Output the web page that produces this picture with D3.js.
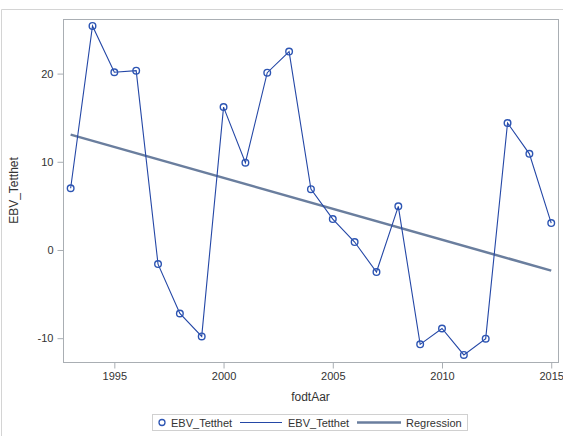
<!DOCTYPE html>
<html>
<head>
<meta charset="utf-8">
<script src="https://cdn.jsdelivr.net/npm/d3@7"></script>
<style>
  html, body { margin: 0; padding: 0; background: #fff; }
  svg { display: block; font-family: Arial, "Liberation Sans", sans-serif; }
</style>
</head>
<body>
<svg id="chart" width="563" height="436"></svg>
<script>
// Birth year (fodtAar) and breeding value for density (EBV_Tetthet)
const years = [1993, 1994, 1995, 1996, 1997, 1998, 1999, 2000, 2001, 2002, 2003, 2004,
               2005, 2006, 2007, 2008, 2009, 2010, 2011, 2012, 2013, 2014, 2015];
const ebvValues = [7.0, 25.4, 20.15, 20.33, -1.6, -7.2, -9.8, 16.2, 9.9, 20.1, 22.5, 6.9,
                   3.5, 0.9, -2.5, 4.95, -10.7, -8.9, -11.9, -10.05, 14.4, 10.9, 3.05];
const xTicks = [1995, 2000, 2005, 2010, 2015];
const yTicks = [-10, 0, 10, 20];
const legendLabels = ["EBV_Tetthet", "EBV_Tetthet", "Regression"];

const svg = d3.select("#chart");
const plot = { left: 63, top: 19, right: 558, bottom: 362 };

const x = d3.scaleLinear().domain([1992.65, 2015.31]).range([plot.left, plot.right]);
const y = d3.scaleLinear().domain([-12.7, 26.19]).range([plot.bottom, plot.top]);

const lineColor = "#2447a6";
const markerColor = "#2d55b3";
const regColor = "#6a7e9e";
const axisColor = "#a9aeb3";
const textColor = "#333";

// outer graph border
svg.append("path")
  .attr("d", "M1.5,440 L1.5,9.5 L570,9.5")
  .attr("fill", "none").attr("stroke", "#d4d4d4").attr("stroke-width", 1);

// plot frame
svg.append("rect")
  .attr("x", plot.left + 0.5).attr("y", plot.top + 0.5)
  .attr("width", plot.right - plot.left).attr("height", plot.bottom - plot.top)
  .attr("fill", "none").attr("stroke", axisColor);

// axes (plain hyphen for negatives)
const xAxis = svg.append("g")
  .attr("transform", `translate(0,${plot.bottom + 0.5})`)
  .call(d3.axisBottom(x).tickValues(xTicks).tickFormat(d => String(d)).tickSize(6).tickPadding(4));
const yAxis = svg.append("g")
  .attr("transform", `translate(${plot.left + 0.5},0)`)
  .call(d3.axisLeft(y).tickValues(yTicks).tickFormat(d => String(d)).tickSize(6).tickPadding(4));
[xAxis, yAxis].forEach(g => {
  g.select(".domain").remove();
  g.selectAll("line").attr("stroke", axisColor);
  g.selectAll("text").attr("fill", textColor).attr("font-size", 11)
    .attr("font-family", "Arial, 'Liberation Sans', sans-serif");
});

// axis titles
svg.append("text")
  .attr("x", (plot.left + plot.right) / 2).attr("y", 401)
  .attr("text-anchor", "middle").attr("font-size", 12).attr("fill", textColor)
  .text("fodtAar");
svg.append("text")
  .attr("transform", `translate(18,${(plot.top + plot.bottom) / 2}) rotate(-90)`)
  .attr("text-anchor", "middle").attr("font-size", 12).attr("fill", textColor)
  .text("EBV_Tetthet");

// least-squares regression line
const n = years.length;
const mx = d3.mean(years), my = d3.mean(ebvValues);
const slope = d3.sum(years, (v, i) => (v - mx) * (ebvValues[i] - my)) / d3.sum(years, v => (v - mx) ** 2);
const intercept = my - slope * mx;
const x0 = years[0], x1 = years[n - 1];
svg.append("line")
  .attr("x1", x(x0)).attr("y1", y(intercept + slope * x0))
  .attr("x2", x(x1)).attr("y2", y(intercept + slope * x1))
  .attr("stroke", regColor).attr("stroke-width", 2.5);

// series line
const pts = years.map((v, i) => [v, ebvValues[i]]);
svg.append("path")
  .datum(pts)
  .attr("d", d3.line().x(d => x(d[0])).y(d => y(d[1])))
  .attr("fill", "none").attr("stroke", lineColor).attr("stroke-width", 1.1);

// markers
svg.append("g").selectAll("circle").data(pts).join("circle")
  .attr("cx", d => x(d[0])).attr("cy", d => y(d[1])).attr("r", 3.3)
  .attr("fill", "none").attr("stroke", markerColor).attr("stroke-width", 1.4);

// legend
const lg = svg.append("g");
lg.append("rect").attr("x", 152.5).attr("y", 414.5).attr("width", 315).attr("height", 16)
  .attr("fill", "#fff").attr("stroke", "#d0d0d0");
const ly = 422.5;
lg.append("circle").attr("cx", 162).attr("cy", ly).attr("r", 3)
  .attr("fill", "none").attr("stroke", markerColor).attr("stroke-width", 1.3);
lg.append("line").attr("x1", 240).attr("x2", 282).attr("y1", ly).attr("y2", ly)
  .attr("stroke", lineColor).attr("stroke-width", 1.1);
lg.append("line").attr("x1", 357).attr("x2", 401).attr("y1", ly).attr("y2", ly)
  .attr("stroke", regColor).attr("stroke-width", 2.5);
const lx = [171, 288, 406];
legendLabels.forEach((t, i) => {
  lg.append("text").attr("x", lx[i]).attr("y", ly + 4).attr("font-size", 11)
    .attr("fill", textColor).text(t);
});
</script>
</body>
</html>
